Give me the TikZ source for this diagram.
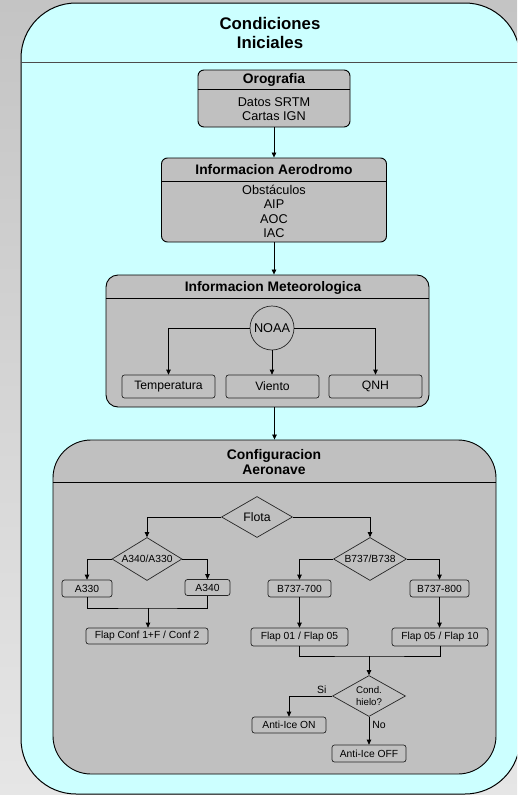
\documentclass[tikz,border=0pt]{standalone}
\usepackage{fontspec}
\setmainfont{Liberation Sans}
\usetikzlibrary{shapes.geometric,arrows.meta}

\definecolor{celeste}{HTML}{CCFFFF}
\definecolor{plata}{HTML}{C0C0C0}
\definecolor{fondoA}{HTML}{C4C4C4}
\definecolor{fondoB}{HTML}{E6E6E6}

\begin{document}
\begin{tikzpicture}[x=1pt,y=-1pt,
        caja/.style={draw, line width=0.9pt, fill=plata, inner sep=0pt},
        item/.style={draw=black!85, line width=0.7pt, fill=plata, rounded corners=2.5pt, inner sep=0pt, font=\fontsize{10.3}{12}\selectfont},
        decision/.style={diamond, draw=black!85, line width=0.7pt, fill=plata, inner sep=0pt, font=\fontsize{10.3}{12}\selectfont},
        cab/.style={inner sep=0pt, font=\bfseries\fontsize{13.8}{15}\selectfont},
        cuerpo/.style={inner sep=0pt, align=center, font=\fontsize{12.7}{14.3}\selectfont},
        flecha/.style={-{Triangle[length=5pt,width=4.5pt]}, line width=0.7pt},
        linea/.style={line width=0.7pt}]
        \clip (0,0) rectangle (517,795);
        \shade[top color=fondoA, bottom color=fondoB] (0,0) rectangle (517,795);

        % condiciones iniciales
        \node[draw, line width=1pt, fill=celeste, rounded corners=55pt, minimum width=499pt, minimum height=791pt] (ini) at (270.5,398.5) {};
        \draw[line width=0.8pt, black!70] (ini.west |- 0,62) -- (ini.east |- 0,62);
        \node[inner sep=0pt, align=center, font=\bfseries\fontsize{16.8}{19}\selectfont] (ini-t) at (270,33) {Condiciones\\Iniciales};

        % orografia
        \node[caja, rounded corners=6pt, minimum width=152pt, minimum height=57pt] (oro) at (274,98.5) {};
        \draw (oro.west |- 0,89) -- (oro.east |- 0,89);
        \node[cab] (oro-t) at (274,80) {Orografia};
        \node[cuerpo] (oro-b) at (274,109) {Datos SRTM\\Cartas IGN};

        % aerodromo
        \node[caja, rounded corners=6pt, minimum width=225pt, minimum height=84pt] (aer) at (274,200) {};
        \draw (aer.west |- 0,181) -- (aer.east |- 0,181);
        \node[cab] (aer-t) at (274,170) {Informacion Aerodromo};
        \node[cuerpo] (aer-b) at (274,211.5) {Obstáculos\\AIP\\AOC\\IAC};
        \draw[flecha] (oro) -- (aer);

        % meteorologia
        \node[caja, rounded corners=12pt, minimum width=323pt, minimum height=132pt] (met) at (267.5,341) {};
        \draw (met.west |- 0,298) -- (met.east |- 0,298);
        \node[cab] (met-t) at (273,288) {Informacion Meteorologica};
        \draw[flecha] (aer.south) -- (aer.south |- met.north);
        \node[circle, draw=black!85, line width=0.7pt, fill=plata, minimum size=44pt, inner sep=0pt, font=\fontsize{12.7}{14}\selectfont] (noaa) at (272,328) {NOAA};
        \node[item, minimum width=93pt, minimum height=23pt, font=\fontsize{12.2}{14}\selectfont] (temp) at (168.5,386.5) {Temperatura};
        \node[item, minimum width=93pt, minimum height=23pt, font=\fontsize{12.2}{14}\selectfont] (vie) at (272.5,386.5) {Viento};
        \node[item, minimum width=93pt, minimum height=23pt, font=\fontsize{12.2}{14}\selectfont] (qnh) at (375.5,386.5) {QNH};
        \draw[flecha] (noaa.west) -| (temp.north);
        \draw[flecha] (noaa.south) -- (noaa.south |- vie.north);
        \draw[flecha] (noaa.east) -| (qnh.north);

        % aeronave
        \node[caja, rounded corners=38pt, minimum width=443pt, minimum height=334pt] (conf) at (274.5,607) {};
        \draw (conf.west |- 0,482) -- (conf.east |- 0,482);
        \node[inner sep=0pt, align=center, font=\bfseries\fontsize{13.9}{15.2}\selectfont] (conf-t) at (274,462) {Configuracion\\Aeronave};
        \draw[flecha] (conf.north |- met.south) -- (conf.north);

        \node[decision, aspect=1.73, minimum width=71pt, minimum height=41pt, font=\fontsize{12.3}{14}\selectfont] (flota) at (257,517) {Flota};
        \node[decision, aspect=1.63, minimum width=70pt, minimum height=43pt] (dA) at (147,559) {A340/A330};
        \node[decision, aspect=1.7, minimum width=73pt, minimum height=43pt] (dB) at (370,559) {B737/B738};
        \node[item, minimum width=50pt, minimum height=17pt] (a330) at (87,588.5) {A330};
        \node[item, minimum width=45pt, minimum height=16pt] (a340) at (207.5,587.5) {A340};
        \node[item, minimum width=63pt, minimum height=17pt] (b700) at (299.5,588.5) {B737-700};
        \node[item, minimum width=59pt, minimum height=17pt] (b800) at (439.5,588.5) {B737-800};
        \node[item, minimum width=122pt, minimum height=16pt] (flapA) at (147,636) {Flap Conf 1+F / Conf 2};
        \node[item, minimum width=97pt, minimum height=18pt] (flapB1) at (299.5,637) {Flap 01 / Flap 05};
        \node[item, minimum width=96pt, minimum height=18pt] (flapB2) at (440,637) {Flap 05 / Flap 10};
        \node[decision, aspect=1.78, minimum width=73pt, minimum height=41pt, align=center, font=\fontsize{9.7}{12}\selectfont] (hielo) at (369,696) {Cond.\\hielo?};
        \node[item, minimum width=74pt, minimum height=16pt] (aon) at (289,725) {Anti-Ice ON};
        \node[item, minimum width=74pt, minimum height=17pt] (aoff) at (369,753.5) {Anti-Ice OFF};

        \draw[flecha] (flota.west) -| (dA.north);
        \draw[flecha] (flota.east) -| (dB.north);
        \draw[flecha] (dA.west) -| (a330.north);
        \draw[flecha] (dA.east) -| (a340.north);
        \draw[flecha] (dB.west) -| (b700.north);
        \draw[flecha] (dB.east) -| (b800.north);
        \coordinate (jA) at (148,608);
        \draw[linea] (a330.south) |- (jA) -| (a340.south);
        \draw[flecha] (jA) -- (jA |- flapA.north);
        \draw[flecha] (b700) -- (flapB1);
        \draw[flecha] (b800.south) -- (b800.south |- flapB2.north);
        \coordinate (jB) at (369,656);
        \draw[linea] (flapB1.south) |- (jB) -| (flapB2.south);
        \draw[flecha] (jB) -- (hielo.north);
        \draw[flecha] (hielo.west) -| node[pos=0.12, above=1pt, inner sep=1pt, font=\fontsize{10.5}{12}\selectfont] (si) {Si} (aon.north);
        \draw[flecha] (hielo.south) -- node[pos=0.3, right=2pt, inner sep=1pt, font=\fontsize{10.5}{12}\selectfont] (no) {No} (aoff.north);
    \end{tikzpicture}
\end{document}
